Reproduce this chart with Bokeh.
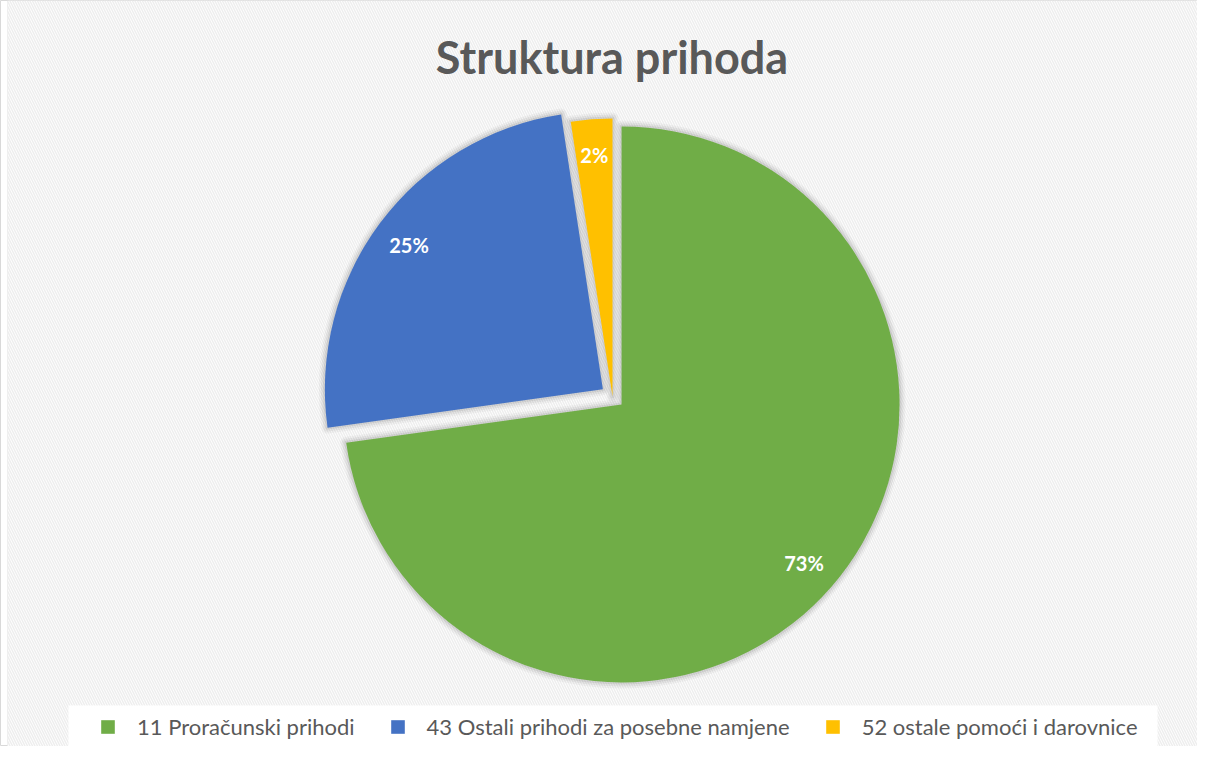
import math
from bokeh.plotting import figure
from bokeh.models import Range1d, ColumnDataSource, Legend, LegendItem, BoxAnnotation, Label
from bokeh.embed import file_html
from bokeh.resources import INLINE
from bokeh.core.properties import value

# ---- data ----
categories = ["11 Proračunski prihodi",
              "43 Ostali prihodi za posebne namjene",
              "52 ostale pomoći i darovnice"]
shares = [72.8, 24.8, 2.4]
colors = ["#70AD47", "#4472C4", "#FFC000"]
explode = [12, 12, 0]

W, H = 1197, 746
CX, CY = 612, 350      # pie centre (px inside the figure)
R = 278                # pie radius (px)

p = figure(width=W, height=H, x_range=Range1d(0, W), y_range=Range1d(0, H),
           output_backend="svg", toolbar_location=None, min_border=0)
p.axis.visible = False
p.grid.visible = False
p.outline_line_color = "#d9d9d9"
p.background_fill_color = "white"
p.border_fill_color = "white"

# hatched chart-area background
p.add_layout(BoxAnnotation(left=7, bottom=0, fill_color="white", fill_alpha=1, line_color="#d9d9d9",
                           line_width=1, hatch_pattern="left_diagonal_line", hatch_color="#eeeeee",
                           hatch_scale=5, hatch_weight=1.5, level="underlay"))
# white legend panel
p.add_layout(BoxAnnotation(left=68, right=1157, bottom=0, top=41, fill_color="white",
                           fill_alpha=1, line_color=None, level="underlay"))

total = sum(shares)
cum = 0.0
xs, ys, starts, ends, lx, ly, labels = [], [], [], [], [], [], []
for s, e in zip(shares, explode):
    a0 = cum / total
    cum += s
    a1 = cum / total
    start = math.pi / 2 - 2 * math.pi * a1
    end = math.pi / 2 - 2 * math.pi * a0
    mid = (start + end) / 2
    x = CX + e * math.cos(mid)
    y = CY + e * math.sin(mid)
    xs.append(x); ys.append(y); starts.append(start); ends.append(end)
    lx.append(x + 0.87 * R * math.cos(mid))
    ly.append(y + 0.87 * R * math.sin(mid))
    labels.append(f"{round(s / total * 100)}%")

src = ColumnDataSource(dict(x=xs, y=ys, start=starts, end=ends, color=colors,
                            cat=categories, lx=lx, ly=ly, label=labels))

# soft shadow halo
for lw, la in [(12, 0.035), (8, 0.05), (4, 0.07)]:
    p.wedge(x="x", y="y", radius=R, start_angle="start", end_angle="end", source=src,
            fill_color=None, line_color="black", line_alpha=la, line_width=lw,
            line_join="round")

renderers = []
for i in range(len(categories)):
    r = p.wedge(x=xs[i], y=ys[i], radius=R, start_angle=starts[i], end_angle=ends[i],
                fill_color=colors[i], line_color=None)
    renderers.append(r)

p.text(x="lx", y="ly", text="label", source=src, text_align="center",
       text_baseline="middle", text_color="white", text_font=value("Lato"),
       text_font_style="bold", text_font_size="20px")

p.add_layout(Label(x=611.5, y=690, text="Struktura prihoda", text_align="center",
                   text_baseline="alphabetic", text_font="Lato", text_font_style="bold",
                   text_font_size="45px", text_color="#595959"))

legend = Legend(items=[LegendItem(label=c, renderers=[r]) for c, r in zip(categories, renderers)],
                location=(99, 6), orientation="horizontal", padding=0, margin=0,
                spacing=34, label_standoff=21, glyph_width=17, glyph_height=17,
                label_height=17, label_text_font="Lato", label_text_font_size="22px",
                label_text_color="#595959", background_fill_alpha=0,
                border_line_color=None)
p.add_layout(legend)

open("out.html", "w").write(file_html(p, INLINE))
